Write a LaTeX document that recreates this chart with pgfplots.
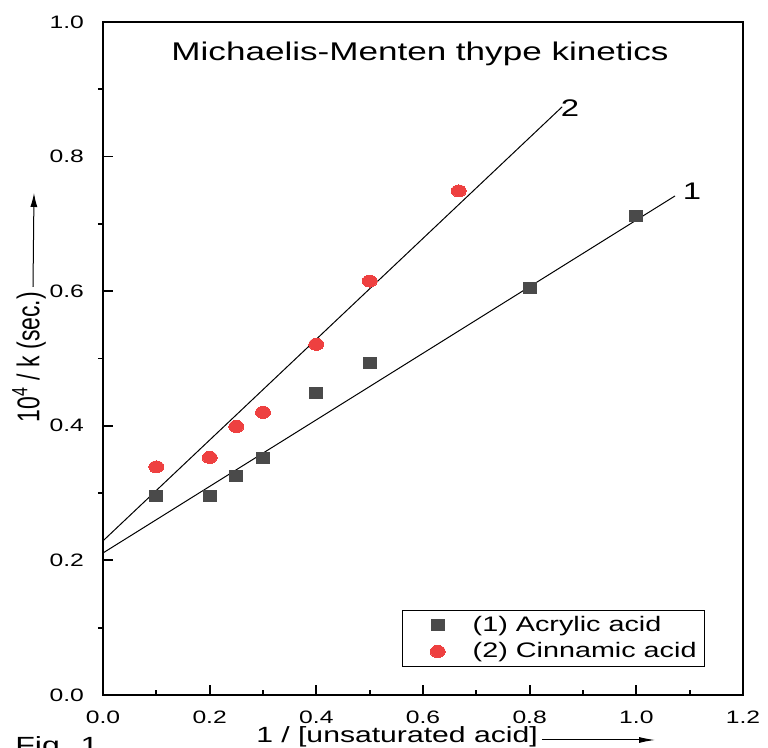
\documentclass[border=0pt]{standalone}
\usepackage{pgfplots}
\pgfplotsset{compat=1.18}
\usetikzlibrary{arrows.meta}
\usepackage{fontspec}
\setmainfont{Liberation Sans}[FakeStretch=1.37]
\newfontfamily\plainsans{Liberation Sans}
\definecolor{sqgray}{RGB}{74,74,74}
\definecolor{cred}{RGB}{238,64,64}
\pgfplotsset{mylegimg/.style={legend image code/.code={\path[draw=none,fill=none] (0pt,0pt) -- (31pt,0pt); \draw[mark repeat=2,mark phase=2,##1] plot coordinates {(0pt,0pt) (15.5pt,0pt) (31pt,0pt)};}}}
\begin{document}
\begin{tikzpicture}
\begin{axis}[
  at={(0pt,0pt)}, anchor=south west,
  scale only axis, width=320pt, height=336.5pt,
  xmin=0, xmax=1.2, ymin=0, ymax=1.0,
  xtick={0,0.2,0.4,0.6,0.8,1.0,1.2},
  ytick={0,0.2,0.4,0.6,0.8,1.0},
  minor xtick={0.1,0.3,0.5,0.7,0.9,1.1},
  minor ytick={0.1,0.3,0.5,0.7,0.9},
  tick pos=left, tick align=inside,
  major tick length=5pt, minor tick length=2.6pt,
  tick style={line width=0.9pt, black},
  minor y tick style={xshift=-2.6pt},
  axis line style={line width=1pt},
  tick label style={font=\fontsize{9}{10}\selectfont},
  xticklabel style={inner sep=0pt, yshift=-8pt},
  yticklabel style={xshift=-6pt},
  /pgf/number format/fixed,
  /pgf/number format/fixed zerofill,
  /pgf/number format/precision=1,
  /pgf/number format/assume math mode=true,
  legend style={at={(axis description cs:0.9406,0.0416)}, anchor=south east,
    draw=black, inner xsep=2pt, inner ysep=1pt,
    font=\fontsize{10.5}{12}\selectfont, nodes={inner sep=2pt},
    /tikz/every even column/.append style={column sep=0.5pt}},
  legend cell align=left,
]
\addplot[only marks, mark=square*, mark size=2.75pt,
  mark options={xscale=1.2, fill=sqgray, draw=sqgray, line width=0pt}, mylegimg]
  coordinates {(0.1,0.296) (0.2,0.296) (0.25,0.325) (0.3,0.352) (0.4,0.448) (0.5,0.494) (0.8,0.605) (1.0,0.711)};
\addlegendentry{(1) Acrylic acid}
\addplot[only marks, mark=*, mark size=3pt,
  mark options={xscale=1.25, fill=cred, draw=cred, line width=0pt}, mylegimg]
  coordinates {(0.1,0.339) (0.2,0.353) (0.25,0.399) (0.3,0.420) (0.4,0.521) (0.5,0.615) (0.667,0.749)};
\addlegendentry{(2) Cinnamic acid}
\addplot[black, line width=0.5pt, forget plot] coordinates {(0,0.211) (1.0725,0.7415)};
\addplot[black, line width=0.5pt, forget plot] coordinates {(0,0.229) (0.861,0.874)};
\end{axis}
\node[anchor=base, font=\fontsize{12.8}{14}\selectfont] at (158.5pt,317pt) {Michaelis-Menten thype kinetics};
\node[font=\fontsize{12}{14}\selectfont] at (233.5pt,293.5pt) {2};
\node[font=\fontsize{12}{14}\selectfont] at (294.5pt,252pt) {1};
\node[anchor=base, inner sep=0pt, font=\fontsize{11}{13}\selectfont] at (147pt,-24pt) {1 / [unsaturated acid]};
\draw[line width=0.5pt, -{Latex[length=8pt,width=3pt]}] (219.5pt,-22.5pt) -- (276pt,-22.5pt);
\node[xscale=1.37] at (-37pt,169pt) {\rotatebox{90}{\plainsans\fontsize{11.5}{13}\selectfont 10\textsuperscript{4} / k (sec.)}};
\draw[line width=0.5pt, -{Latex[length=7pt,width=3.5pt]}] (-35pt,204pt) -- (-34.5pt,251pt);
\node[anchor=north west, inner sep=0pt, font=\fontsize{11.7}{14}\selectfont] at (-44pt,-20.5pt) {Fig. 1};
\pgfresetboundingbox
\useasboundingbox (-51.5pt,-26.5pt) rectangle (332.5pt,347.5pt);
\end{tikzpicture}
\end{document}
